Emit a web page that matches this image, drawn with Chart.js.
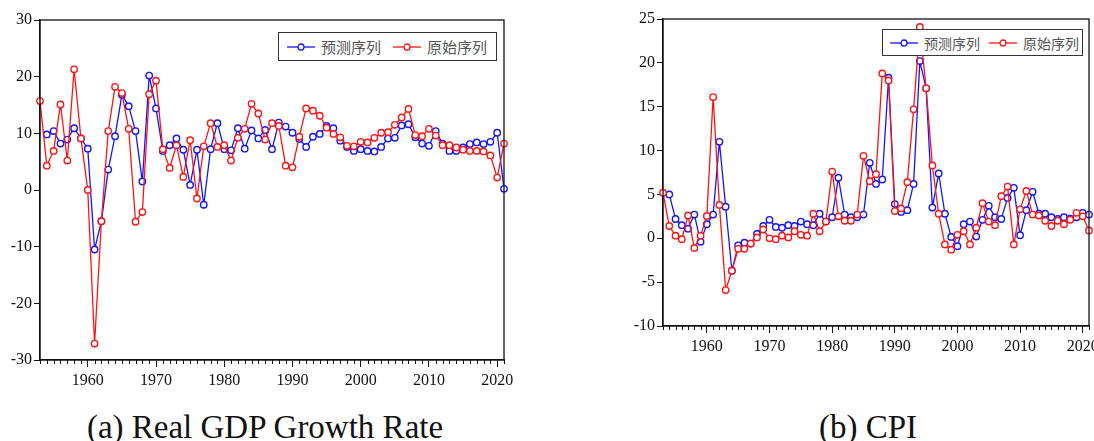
<!DOCTYPE html>
<html>
<head>
<meta charset="utf-8">
<script src="https://cdn.jsdelivr.net/npm/chart.js@4/dist/chart.umd.min.js"></script>
<style>
  html, body { margin: 0; padding: 0; background: #fff; width: 1094px; height: 441px; overflow: hidden; }
  body { position: relative; font-family: "Liberation Serif", serif; }
  canvas { position: absolute; }
  #c1 { left: 0; top: 0; }
  #c2 { left: 620px; top: 0; }
  .legend {
    position: absolute; border: 1px solid #333; background: #fff;
    font-family: "Noto Sans CJK SC", sans-serif; color: #555;
    display: flex; align-items: center; box-sizing: border-box; white-space: nowrap;
  }
  .legend span { display: inline-flex; align-items: center; }
  .legend svg { margin-right: 6px; }
  .caption { position: absolute; font-size: 33px; line-height: 33px; color: #111; white-space: nowrap; transform: translateX(-50%); }
</style>
</head>
<body>
<canvas id="c1" width="530" height="395"></canvas>
<canvas id="c2" width="490" height="361"></canvas>

<div class="legend" id="leg1" style="left:278px; top:32px; width:219px; height:29px; font-size:15px; padding-left:8px;"></div>
<div class="legend" id="leg2" style="left:882px; top:29px; width:201px; height:27px; font-size:14px; padding-left:7px;"></div>

<div class="caption" style="left:265px; top:411px;">(a) Real GDP Growth Rate</div>
<div class="caption" style="left:868px; top:411px;">(b) CPI</div>

<script>
const years = [];
for (let y = 1953; y <= 2021; y++) years.push(y);

const seriesNames = ["预测序列", "原始序列"];

// 实际GDP增长率
const gdpActual = [15.7, 4.3, 6.9, 15.1, 5.2, 21.3, 9.1, 0.0, -27.1, -5.5,
  10.4, 18.2, 17.1, 10.8, -5.6, -3.9, 16.9, 19.3, 7.2, 3.9,
  7.9, 2.3, 8.8, -1.5, 7.7, 11.8, 7.6, 7.9, 5.2, 9.2,
  10.8, 15.2, 13.5, 8.9, 11.8, 11.3, 4.3, 4.0, 9.4, 14.4,
  14.0, 13.1, 11.0, 9.9, 9.3, 7.8, 7.7, 8.5, 8.4, 9.2,
  10.1, 10.2, 11.5, 12.8, 14.3, 9.7, 9.5, 10.8, 9.6, 7.9,
  7.9, 7.5, 7.1, 6.9, 6.9, 6.8, 6.1, 2.2, 8.2];
const gdpForecast = [null, 9.8, 10.4, 8.2, 8.9, 10.9, 9.1, 7.3, -10.5, -5.5,
  3.6, 9.5, 16.8, 14.8, 10.4, 1.5, 20.2, 14.4, 6.9, 7.9,
  9.1, 7.1, 0.9, 7.1, -2.6, 7.2, 11.8, 7.2, 7.0, 10.9,
  7.3, 10.5, 9.1, 10.6, 7.2, 11.9, 11.2, 10.1, 9.0, 7.6,
  9.4, 9.9, 11.3, 10.9, 8.7, 7.6, 6.9, 7.2, 6.9, 6.8,
  7.6, 9.1, 9.2, 11.4, 11.6, 9.3, 8.2, 7.8, 10.4, 8.2,
  6.9, 6.9, 7.5, 8.1, 8.4, 8.1, 8.5, 10.1, 0.2];

// CPI
const cpiActual = [5.2, 1.4, 0.3, -0.1, 2.6, -1.1, 0.3, 2.55, 16.1, 3.8,
  -5.9, -3.7, -1.2, -1.2, -0.6, 0.1, 1.0, 0.0, -0.1, 0.3,
  0.1, 0.8, 0.4, 0.3, 2.8, 0.8, 1.9, 7.6, 2.5, 2.0,
  2.0, 2.7, 9.4, 6.5, 7.3, 18.8, 18.0, 3.1, 3.4, 6.4,
  14.7, 24.1, 17.1, 8.3, 2.8, -0.7, -1.3, 0.4, 0.8, -0.7,
  1.2, 4.0, 1.9, 1.5, 4.8, 5.9, -0.7, 3.3, 5.4, 2.7,
  2.6, 2.0, 1.4, 2.0, 1.6, 2.1, 2.9, 2.5, 0.9];
const cpiForecast = [null, 5.0, 2.2, 1.5, 1.1, 2.7, -0.4, 1.6, 2.7, 11.0,
  3.6, -3.7, -0.8, -0.5, -0.6, 0.5, 1.4, 2.1, 1.3, 1.2,
  1.5, 1.4, 1.9, 1.6, 1.5, 2.8, 1.9, 2.4, 6.9, 2.7,
  2.4, 2.4, 2.7, 8.6, 6.2, 6.7, 18.3, 3.9, 3.0, 3.2,
  6.2, 20.2, 17.1, 3.5, 7.4, 2.8, 0.15, -0.9, 1.6, 1.9,
  0.2, 2.1, 3.7, 2.4, 2.2, 4.6, 5.75, 0.35, 3.2, 5.3,
  2.8, 2.8, 2.4, 2.2, 2.4, 2.25, 2.4, 2.9, 2.7];

const decadeTicks = [1960, 1970, 1980, 1990, 2000, 2010, 2020];
const gdpTicks = [-30, -20, -10, 0, 10, 20, 30];
const cpiTicks = [-10, -5, 0, 5, 10, 15, 20, 25];

const BLUE = "#1414ff";
const RED = "#ff1414";

// 外框和年度小刻度
const framePlugin = {
  id: "frame",
  afterDraw(chart) {
    const { ctx, chartArea: a, scales } = chart;
    ctx.save();
    ctx.strokeStyle = "#111";
    ctx.lineWidth = 1.3;
    ctx.strokeRect(a.left, a.top, a.right - a.left, a.bottom - a.top);
    ctx.lineWidth = 1;
    ctx.beginPath();
    years.forEach(y => {
      if (y % 10 === 0) return;
      const x = Math.round(scales.x.getPixelForValue(y)) + 0.5;
      ctx.moveTo(x, a.bottom);
      ctx.lineTo(x, a.bottom + 4);
    });
    ctx.stroke();
    ctx.restore();
  }
};

function series(vals) {
  return years.map((y, i) => ({ x: y, y: vals[i] }));
}

function ds(label, vals, color) {
  return {
    label: label,
    data: series(vals),
    borderColor: color,
    backgroundColor: "#fff",
    borderWidth: 1.3,
    pointRadius: 3.2,
    pointBorderWidth: 1.4,
    pointBackgroundColor: "#fff",
    pointBorderColor: color,
    tension: 0,
    clip: false
  };
}

function makeChart(id, actual, forecast, yTicks, yWidth) {
  const tickFont = { family: "'Liberation Serif'", size: 16 };
  return new Chart(document.getElementById(id), {
    type: "line",
    data: {
      datasets: [ds(seriesNames[1], actual, RED), ds(seriesNames[0], forecast, BLUE)]
    },
    options: {
      responsive: false,
      animation: false,
      layout: id === "c1" ? { padding: { top: 20, right: 26, left: 0, bottom: 0 } }
                          : { padding: { top: 19, right: 21, left: 0, bottom: 0 } },
      plugins: { legend: { display: false }, tooltip: { enabled: false } },
      scales: {
        x: {
          type: "linear",
          min: years[0],
          max: years[years.length - 1],
          afterBuildTicks: s => { s.ticks = decadeTicks.map(v => ({ value: v })); },
          afterFit: s => { s.height = 35; },
          ticks: { callback: v => String(v), font: tickFont, color: "#111", padding: 4, maxRotation: 0 },
          grid: { drawOnChartArea: false, tickLength: 7, tickColor: "#111", tickWidth: 1 },
          border: { color: "#111", width: 1.3 }
        },
        y: {
          min: yTicks[0],
          max: yTicks[yTicks.length - 1],
          afterBuildTicks: s => { s.ticks = yTicks.map(v => ({ value: v })); },
          afterFit: s => { s.width = yWidth; },
          ticks: { font: tickFont, color: "#111", padding: 2 },
          grid: { drawOnChartArea: false, tickLength: 6, tickColor: "#111", tickWidth: 1 },
          border: { color: "#111", width: 1.3 }
        }
      }
    },
    plugins: [framePlugin]
  });
}

makeChart("c1", gdpActual, gdpForecast, gdpTicks, 40);
makeChart("c2", cpiActual, cpiForecast, cpiTicks, 43);

// 图例
function marker(color) {
  return '<svg width="28" height="10"><line x1="0" y1="5" x2="28" y2="5" stroke="' + color +
    '" stroke-width="1.3"/><circle cx="14" cy="5" r="3" fill="#fff" stroke="' + color + '" stroke-width="1.3"/></svg>';
}
function fillLegend(id, gap) {
  document.getElementById(id).innerHTML =
    '<span>' + marker(BLUE) + seriesNames[0] + '</span>' +
    '<span style="margin-left:' + gap + 'px">' + marker(RED) + seriesNames[1] + '</span>';
}
fillLegend("leg1", 12);
fillLegend("leg2", 9);
</script>
</body>
</html>
